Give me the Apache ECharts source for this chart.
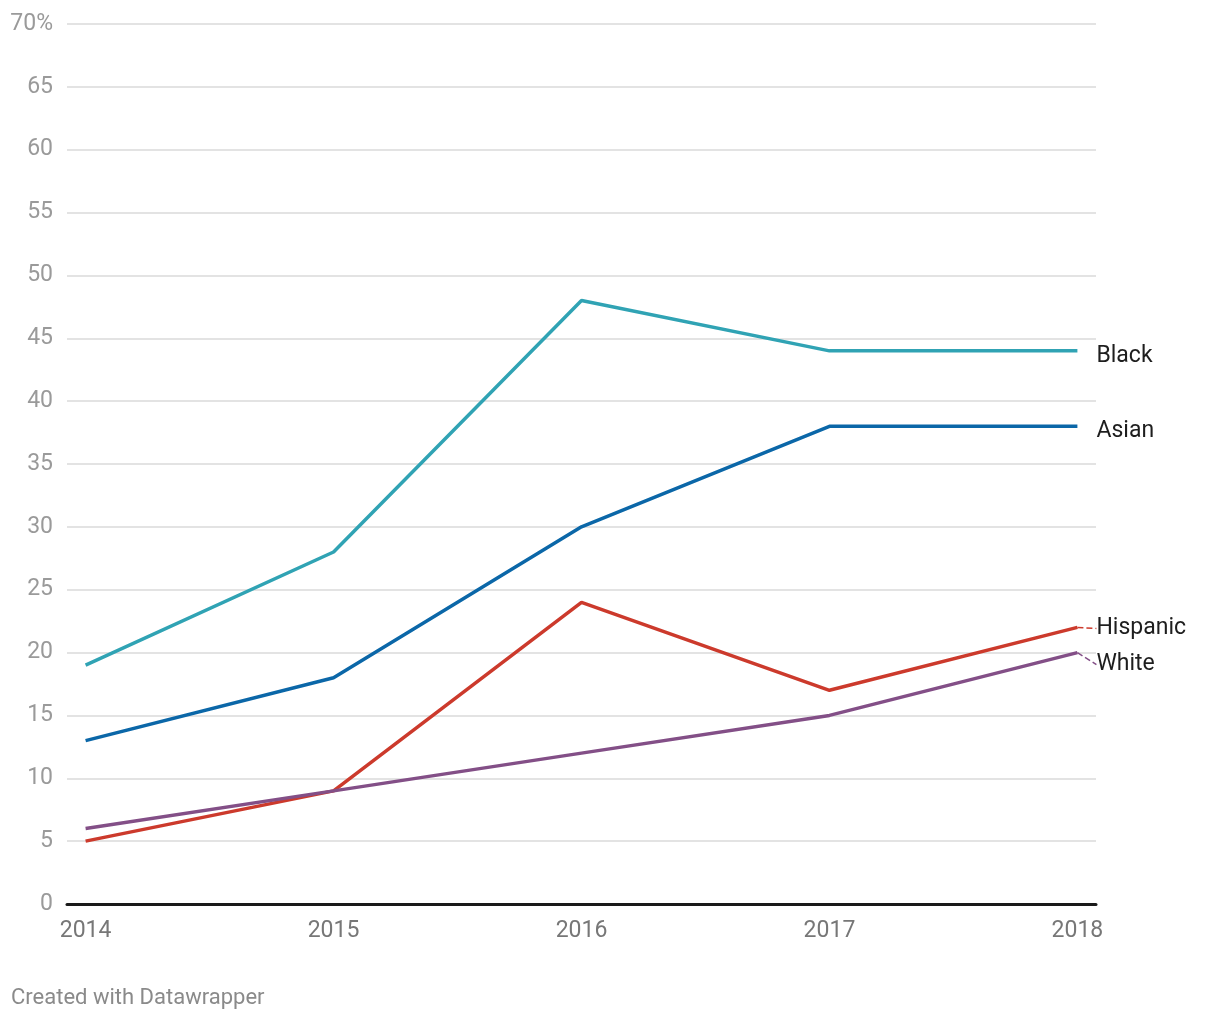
<!DOCTYPE html>
<html>
<head>
<meta charset="utf-8">
<script src="https://cdn.jsdelivr.net/npm/echarts@6/dist/echarts.min.js"></script>
<style>
html,body{margin:0;padding:0;background:#fff;}
#c{width:1220px;height:1020px;}
</style>
</head>
<body>
<div id="c"></div>
<script>
const years = [2014, 2015, 2016, 2017, 2018];
const black = [19, 28, 48, 44, 44];
const asian = [13, 18, 30, 38, 38];
const hispanic = [5, 9, 24, 17, 22];
const white = [6, 9, 12, 15, 20];
const yTicks = [0, 5, 10, 15, 20, 25, 30, 35, 40, 45, 50, 55, 60, 65, 70];

const seriesDefs = [
  {name: 'Black', data: black, color: '#30a3b4', dy: 5, leader: false},
  {name: 'Asian', data: asian, color: '#0b67a8', dy: 5, leader: false},
  {name: 'Hispanic', data: hispanic, color: '#cc3a2c', dy: 1, leader: true},
  {name: 'White', data: white, color: '#834f87', dy: 12, leader: true}
];

const chart = echarts.init(document.getElementById('c'));
chart.setOption({
  animation: false,
  grid: {left: 67, right: 124, top: 24, bottom: 116},
  xAxis: {
    type: 'value',
    min: 2013.925,
    max: 2018.075,
    axisLine: {show: true, onZero: false, lineStyle: {color: '#1a1a1a', width: 3}},
    axisTick: {show: false},
    splitLine: {show: false},
    axisLabel: {
      customValues: years,
      formatter: v => String(v),
      color: '#777', fontFamily: 'Roboto', fontSize: 23, margin: 16
    }
  },
  yAxis: {
    type: 'value',
    min: 0, max: 70, interval: 5,
    axisLine: {show: false},
    axisTick: {show: false},
    splitLine: {lineStyle: {color: '#e3e3e3', width: 2}},
    axisLabel: {
      formatter: v => v === 70 ? '70%' : String(v),
      color: '#9a9a9a', fontFamily: 'Roboto', fontSize: 23, margin: 14
    }
  },
  series: seriesDefs.map(s => ({
    name: s.name,
    type: 'line',
    symbol: 'circle',
    symbolSize: 0.01,
    showSymbol: true,
    lineStyle: {color: s.color, width: 3.5},
    itemStyle: {color: s.color},
    data: s.data.map((v, i) => {
      const d = {value: [years[i], v]};
      if (i === years.length - 1) {
        d.label = {
          show: true, position: 'right', distance: 19,
          formatter: s.name, color: '#1e1e1e', fontFamily: 'Roboto', fontSize: 23
        };
      }
      return d;
    }),
    labelLayout: {dy: s.dy},
    labelLine: {show: s.leader, lineStyle: {color: s.color, type: 'dashed', width: 1.5}},
    z: 3
  }))
});
</script>
<div style="position:absolute;left:11px;top:984px;font-family:Roboto;font-size:22px;color:#8a8a8a;">Created with Datawrapper</div>
</body>
</html>
